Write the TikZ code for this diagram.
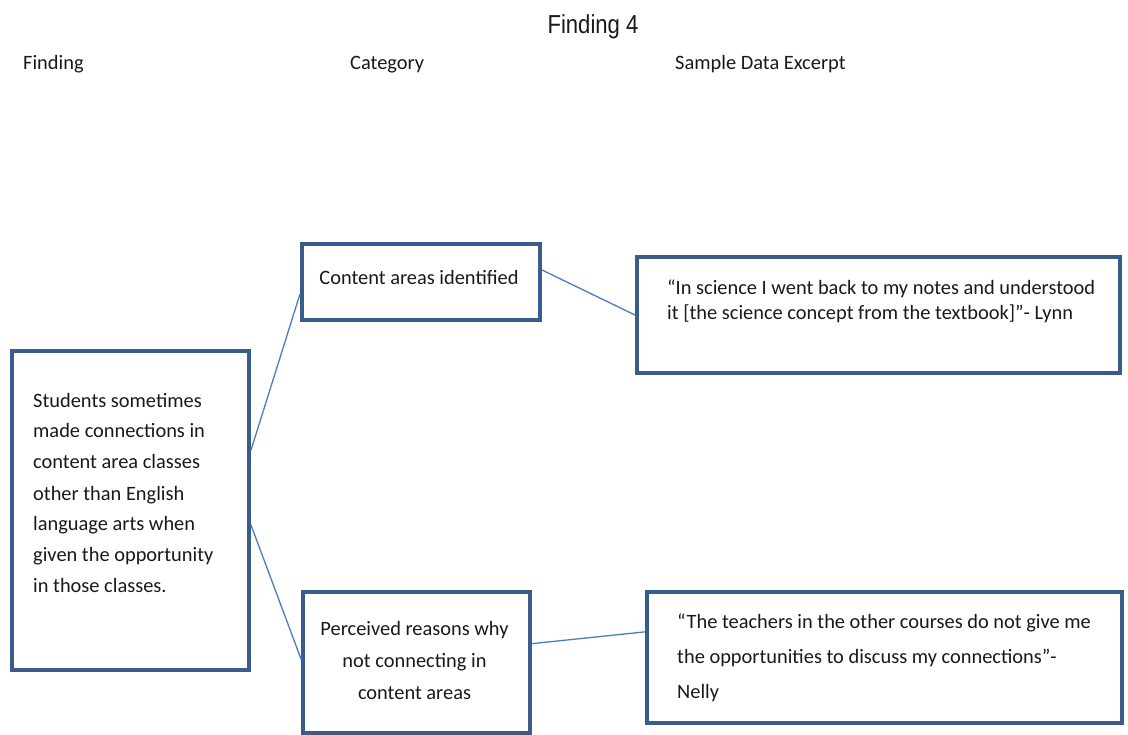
\documentclass[tikz,border=0pt]{standalone}
\usepackage{fontspec}
\setmainfont{Carlito}
\newfontfamily\titlefont{Liberation Sans}
\usetikzlibrary{calc}
\definecolor{boxblue}{RGB}{56,93,138}
\definecolor{linkblue}{RGB}{74,126,187}
\definecolor{ink}{RGB}{25,25,25}
\newcommand{\mylines}[2]{\begin{tabular}[t]{@{}#1@{}}#2\end{tabular}}
\begin{document}
\begin{tikzpicture}[x=1pt,y=-1pt,
  boxnode/.style={draw=boxblue, line width=4pt, fill=white, inner sep=0pt, anchor=north west},
  txt/.style={inner sep=0pt, text=ink, font=\fontsize{20.4}{24.5}\selectfont},
  link/.style={draw=linkblue, line width=1.3pt}]
\useasboundingbox (0,0) rectangle (1128,735);
\fill[white] (0,0) rectangle (1128,735);

% titles
\node[inner sep=0pt, text=ink, anchor=base, font=\titlefont\fontsize{26}{30}\selectfont] (title) at (593,34) {\scalebox{0.85}[1]{Finding 4}};
\node[txt, anchor=base west] (hfinding) at (23,70) {Finding};
\node[txt, anchor=base west] (hcategory) at (350,70) {Category};
\node[txt, anchor=base west] (hsample) at (675,70) {Sample Data Excerpt};

% boxes
\node[boxnode, minimum width=237pt, minimum height=319pt] (finding) at (10,349) {};
\node[boxnode, minimum width=238pt, minimum height=76pt] (content) at (300,242) {};
\node[boxnode, minimum width=483pt, minimum height=116pt] (quote1) at (635,255) {};
\node[boxnode, minimum width=227pt, minimum height=141pt] (perceived) at (301,590) {};
\node[boxnode, minimum width=475pt, minimum height=131pt] (quote2) at (645,590) {};

% texts
\node[txt, anchor=base west, font=\fontsize{20.4}{31}\selectfont] (findingtext) at (33,407) {\mylines{l}{Students sometimes\\made connections in\\content area classes\\other than English\\language arts when\\given the opportunity\\in those classes.}};
\node[txt, anchor=base] (contenttext) at (419,285) {Content areas identified};
\node[txt, anchor=base west] (quote1text) at (667,295) {\mylines{l}{“In science I went back to my notes and understood\\it [the science concept from the textbook]”- Lynn}};
\node[txt, anchor=base, font=\fontsize{20.4}{32}\selectfont] (perceivedtext) at (414.5,635) {\mylines{c}{Perceived reasons why\\not connecting in\\content areas}};
\node[txt, anchor=base west, font=\fontsize{20.4}{35}\selectfont] (quote2text) at (677,628) {\mylines{l}{“The teachers in the other courses do not give me\\the opportunities to discuss my connections”-\\Nelly}};

% connectors
\draw[link] ($(finding.north east)!0.313!(finding.south east)$) -- ($(content.north west)!0.65!(content.south west)$);
\draw[link] ($(finding.north east)!0.545!(finding.south east)$) -- ($(perceived.north west)!0.476!(perceived.south west)$);
\draw[link] ($(content.north east)!0.35!(content.south east)$) -- (quote1.west);
\draw[link] ($(perceived.north east)!0.37!(perceived.south east)$) -- ($(quote2.north west)!0.31!(quote2.south west)$);
\end{tikzpicture}
\end{document}
